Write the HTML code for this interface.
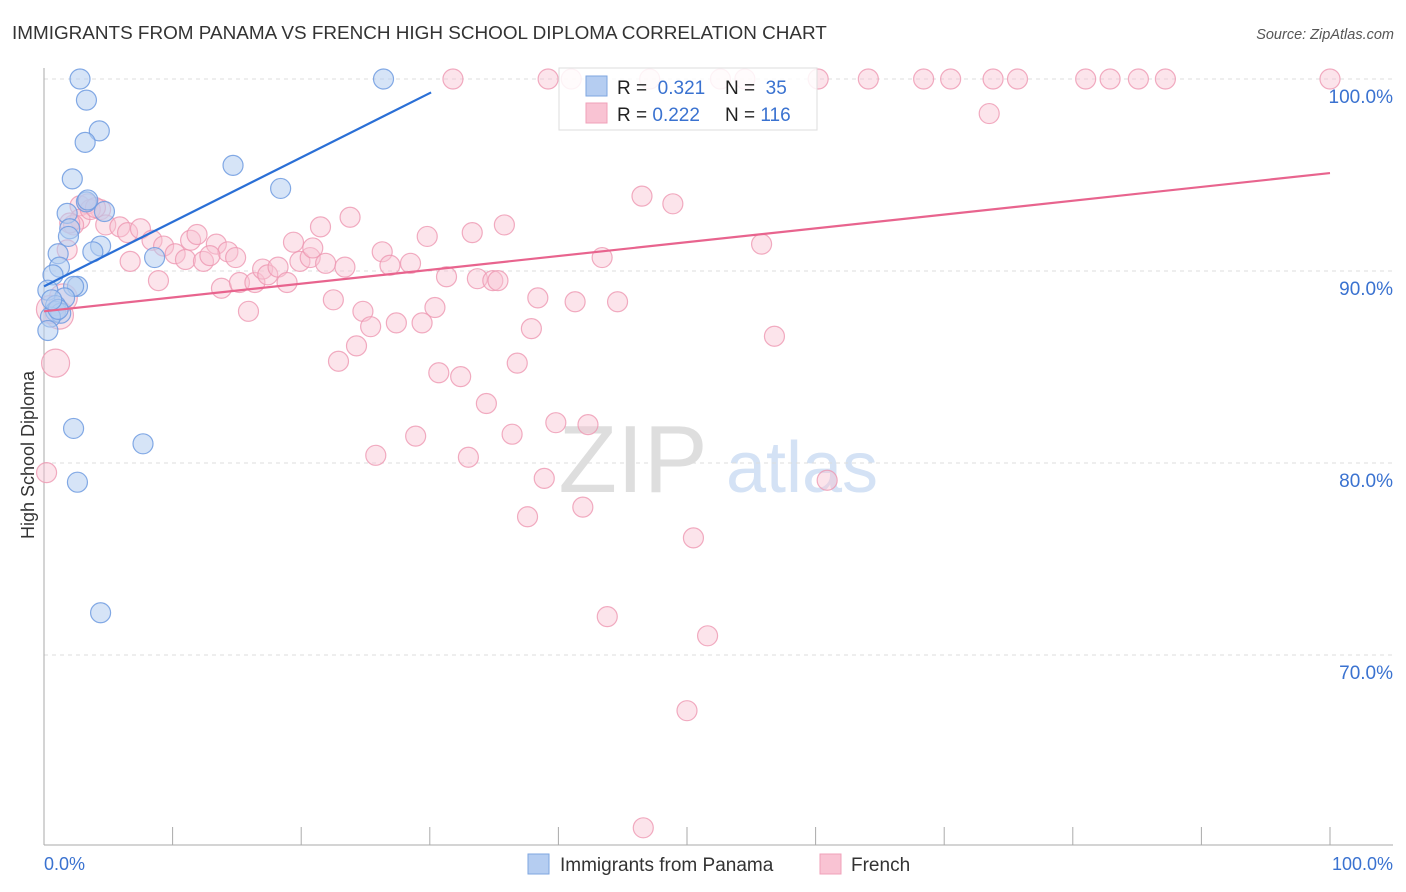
<!DOCTYPE html>
<html><head><meta charset="utf-8">
<style>
body{margin:0;background:#fff;font-family:"Liberation Sans",sans-serif;}
#wrap{position:relative;width:1406px;height:892px;overflow:hidden;}
svg text{font-family:"Liberation Sans",sans-serif;}
</style></head>
<body>
<div id="wrap">
<svg id="chart" width="1406" height="892">
<text x="12" y="39" font-size="18.9" fill="#333">IMMIGRANTS FROM PANAMA VS FRENCH HIGH SCHOOL DIPLOMA CORRELATION CHART</text>
<text x="1394" y="39" font-size="14.5" fill="#555" font-style="italic" text-anchor="end">Source: ZipAtlas.com</text>
<text x="633" y="492" font-size="96" fill="#dedede" font-family="Liberation Serif" text-anchor="middle">ZIP</text>
<text x="802" y="492" font-size="72" fill="#d4e2f5" text-anchor="middle">atlas</text>
<text transform="translate(34,455) rotate(-90)" font-size="18" fill="#333" text-anchor="middle">High School Diploma</text>
<g id="grid"></g>
<g id="pts"></g>
<g id="lines"></g>
<g>
<rect x="559" y="68" width="258" height="62" fill="#fff" fill-opacity="0.85" stroke="#ddd"/>
<rect x="586" y="76" width="21" height="20" fill="#b5cdf1" stroke="#7ea6e0"/>
<rect x="586" y="103" width="21" height="20" fill="#f9c3d3" stroke="#f0a0b9"/>
<text x="617" y="94" font-size="19" fill="#222">R = <tspan fill="#3a72d0">&#160;0.321</tspan><tspan x="725">N = </tspan><tspan fill="#3a72d0">&#160;35</tspan></text>
<text x="617" y="121" font-size="19" fill="#222">R = <tspan fill="#3a72d0">0.222</tspan><tspan x="725">N = </tspan><tspan fill="#3a72d0">116</tspan></text>
</g>
<g>
<rect x="528" y="854" width="21" height="20" fill="#b5cdf1" stroke="#7ea6e0"/>
<text x="560" y="871" font-size="19" fill="#333">Immigrants from Panama</text>
<rect x="820" y="854" width="21" height="20" fill="#f9c3d3" stroke="#f0a0b9"/>
<text x="851" y="871" font-size="19" fill="#333">French</text>
</g>
</svg>
</div>
<script>
const yTicks=[100,90,80,70];
const yTickLabels=["100.0%","90.0%","80.0%","70.0%"];
const xTicks=[0,10,20,30,40,50,60,70,80,90,100];
const xTickLabels=["0.0%","100.0%"];
const panamaX=[2.8,3.3,4.3,3.2,2.2,26.4,14.7,18.4,3.3,4.7,1.8,2.0,1.9,4.4,3.8,1.1,1.2,0.7,0.3,2.6,2.3,1.6,0.9,0.9,1.3,0.5,0.3,8.6,2.3,7.7,2.6,4.4,3.4,1.1,0.6];
const panamaY=[100,98.9,97.3,96.7,94.8,100,95.5,94.3,93.6,93.1,93.0,92.2,91.8,91.3,91.0,90.9,90.2,89.8,89.0,89.2,89.2,88.6,88.2,87.9,87.8,87.6,86.9,90.7,81.8,81.0,79.0,72.2,93.7,88.0,88.5];
const frenchX=[31.8,39.2,41.0,47.1,52.6,54.5,60.2,64.1,68.4,70.5,73.8,75.7,81.0,82.9,85.1,87.2,100,73.5,46.5,48.9,23.8,35.8,21.5,33.3,29.8,55.8,43.4,26.3,28.5,26.9,31.3,33.7,34.9,35.3,22.5,38.4,41.3,44.6,30.4,24.8,25.4,29.4,27.4,37.9,56.8,24.3,22.9,36.8,30.7,32.4,34.4,28.9,36.4,39.8,42.3,25.8,33.0,38.9,60.9,37.6,41.9,50.5,43.8,51.6,50.0,46.6,2.8,3.4,4.4,2.8,2.3,4.8,5.9,6.5,7.5,8.4,9.3,10.2,11.0,12.4,11.4,11.9,13.4,14.3,14.9,12.9,8.9,6.7,13.8,15.2,15.9,16.4,17.0,17.4,18.2,18.9,19.4,19.9,20.7,20.9,21.9,23.4,2.0,1.8,1.2,0.9,0.2,1.5,0.5,3.6,4.0];
const frenchY=[100,100,100,100,100,100,100,100,100,100,100,100,100,100,100,100,100,98.2,93.9,93.5,92.8,92.4,92.3,92.0,91.8,91.4,90.7,91.0,90.4,90.3,89.7,89.6,89.5,89.5,88.5,88.6,88.4,88.4,88.1,87.9,87.1,87.3,87.3,87.0,86.6,86.1,85.3,85.2,84.7,84.5,83.1,81.4,81.5,82.1,82.0,80.4,80.3,79.2,79.1,77.2,77.7,76.1,72.0,71.0,67.1,61.0,93.4,93.5,93.2,92.7,92.4,92.4,92.3,92.0,92.2,91.6,91.3,90.9,90.6,90.5,91.6,91.9,91.4,91.0,90.7,90.8,89.5,90.5,89.1,89.4,87.9,89.4,90.1,89.8,90.2,89.4,91.5,90.5,90.7,91.2,90.4,90.2,92.5,91.1,87.7,85.2,79.5,88.6,88.0,93.2,93.3];
const frenchLarge=[104,105,107,108];
const panamaTrend=[0,89.2,30.1,99.3];
const frenchTrend=[0,87.9,100,95.1];

const X0=44,X1=1330,Y100=79,PXU=19.2;
const sx=v=>X0+(X1-X0)*v/100;
const sy=v=>Y100+(100-v)*PXU;
const NS="http://www.w3.org/2000/svg";
function mk(tag,attrs,parent){const e=document.createElementNS(NS,tag);for(const k in attrs)e.setAttribute(k,attrs[k]);parent.appendChild(e);return e;}
const grid=document.getElementById('grid');
yTicks.forEach((t,i)=>{
  const l=mk('line',{x1:44,x2:1393,y1:sy(t),y2:sy(t),stroke:'#ddd','stroke-dasharray':'4,4'},grid);
  
  
  const tx=mk('text',{x:1393,y:sy(t)+24,'font-size':19,fill:'#3a72d0','text-anchor':'end'},grid);
  tx.textContent=yTickLabels[i];
  
  
});
const ax=mk('line',{x1:44,x2:44,y1:68,y2:845,stroke:'#aaa'},grid);


const bx=mk('line',{x1:44,x2:1393,y1:845,y2:845,stroke:'#aaa'},grid);


xTicks.forEach(t=>{
  const l=mk('line',{x1:sx(t),x2:sx(t),y1:827,y2:845,stroke:'#aaa'},grid);
  
  
});
const xl0=mk('text',{x:44,y:870,'font-size':18,fill:'#3a72d0'},grid);
xl0.textContent=xTickLabels[0];


const xl1=mk('text',{x:1393,y:870,'font-size':18,fill:'#3a72d0','text-anchor':'end'},grid);
xl1.textContent=xTickLabels[1];



const pts=document.getElementById('pts');
frenchX.forEach((v,i)=>{
  const big=frenchLarge.includes(i);
  const c=mk('circle',{cx:sx(v),cy:sy(frenchY[i]),r:big?14:10,fill:'#f9c3d3','fill-opacity':0.45,stroke:'#ee97b1','stroke-opacity':0.8,'stroke-width':1.2},pts);
  
  
});
panamaX.forEach((v,i)=>{
  const c=mk('circle',{cx:sx(v),cy:sy(panamaY[i]),r:10,fill:'#b5cdf1','fill-opacity':0.55,stroke:'#6f9be0','stroke-opacity':0.85,'stroke-width':1.2},pts);
  
  
});
const lines=document.getElementById('lines');
const pl=mk('line',{x1:sx(panamaTrend[0]),y1:sy(panamaTrend[1]),x2:sx(panamaTrend[2]),y2:sy(panamaTrend[3]),stroke:'#2a6fd6','stroke-width':2.2},lines);


const fl=mk('line',{x1:sx(frenchTrend[0]),y1:sy(frenchTrend[1]),x2:sx(frenchTrend[2]),y2:sy(frenchTrend[3]),stroke:'#e8648e','stroke-width':2.2},lines);


</script>
</body></html>
